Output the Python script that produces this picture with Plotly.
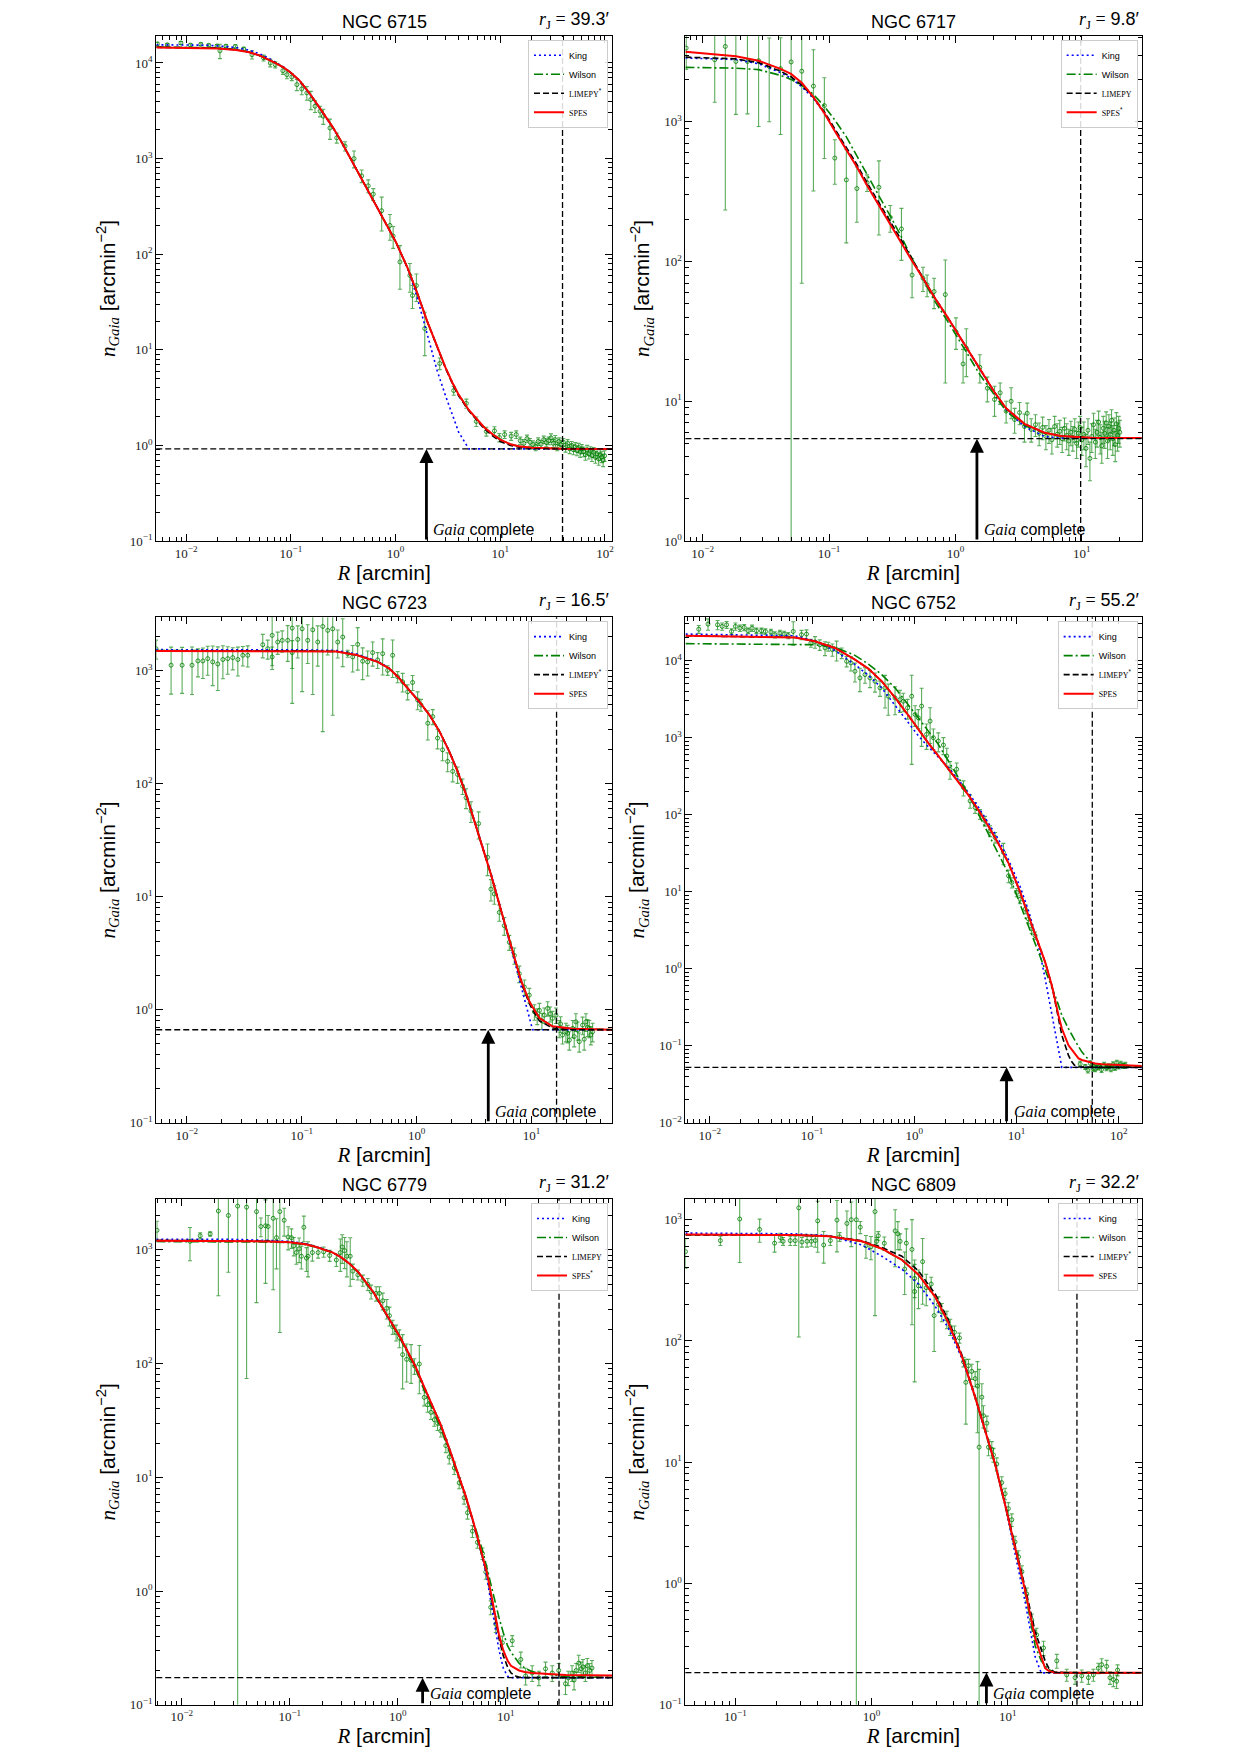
import math
import plotly.graph_objects as go

# ===================== NGC 6715 =====================
N6715_R = [0.0053, 0.0066, 0.0089, 0.011, 0.0138, 0.0164, 0.0197, 0.021, 0.024, 0.0295, 0.0354, 0.0425,
           0.0548, 0.0635, 0.0709, 0.0838, 0.0916, 0.102, 0.114, 0.127, 0.142, 0.155, 0.170, 0.19, 0.204,
           0.236, 0.274, 0.329, 0.401, 0.474, 0.548, 0.612, 0.736, 0.883, 0.948, 1.10, 1.37, 1.45, 1.58,
           1.90, 2.64, 3.59, 4.74, 5.9, 7.36, 8.8, 9.8, 11.0, 12.7, 14.2,
           15.5, 16.8, 18, 19.2, 20.5, 21.8, 23, 24.5, 26, 27.5, 29, 30.5, 32, 33.5, 35, 36.5, 38, 40, 42,
           44, 46, 48, 50, 52, 54, 56, 58, 60, 62.5, 65, 67.5, 70, 72.5, 75, 78, 81, 84, 87, 90, 93, 96, 99]
N6715_N = [15800, 15500, 16200, 15400, 15700, 15300, 15100, 13400, 15000, 14900, 14000, 12200,
           11300, 10000, 9600, 8300, 7550, 7140, 5940, 5350, 4870, 4150, 3530, 3130, 2780,
           2090, 1650, 1350, 1000, 660, 519, 425, 285, 200, 155, 83, 60, 37, 47,
           16.7, 7.2, 3.75, 2.75, 1.78, 1.40, 1.42, 1.21, 1.30, 1.25, 1.30,
           1.12, 1.05, 1.18, 1.08, 1.02, 0.98, 1.10, 1.03, 1.15, 1.07, 1.12, 1.20, 1.05, 1.15, 0.98, 1.10,
           1.02, 1.08, 0.95, 1.05, 0.92, 1.00, 0.90, 0.97, 0.88, 0.95, 0.85, 0.92, 0.86, 0.80, 0.90, 0.82,
           0.87, 0.78, 0.85, 0.75, 0.82, 0.72, 0.80, 0.76, 0.70, 0.78]
N6715_E = [700, 500, 600, 500, 500, 500, 500, 2300, 500, 600, 600, 1200,
           800, 900, 700, 700, 700, 600, 800, 700, 800, 900, 500, 400, 500,
           500, 200, 150, 200, 100, 80, 60, 110, 60, 40, 40, 20, 10, 15,
           8, 1, 0.4, 0.3, 0.2, 0.15, 0.15, 0.12, 0.12, 0.12, 0.12,
           0.1, 0.1, 0.1, 0.1, 0.1, 0.1, 0.1, 0.1, 0.1, 0.1, 0.1, 0.12, 0.1, 0.12, 0.1, 0.1,
           0.1, 0.1, 0.1, 0.1, 0.1, 0.1, 0.1, 0.1, 0.1, 0.1, 0.1, 0.1, 0.1, 0.1, 0.1, 0.1,
           0.1, 0.1, 0.1, 0.1, 0.1, 0.1, 0.1, 0.1, 0.1, 0.1]
N6715_RC = [0.0052, 0.01, 0.015, 0.02, 0.03, 0.04, 0.05, 0.06, 0.07, 0.085, 0.1, 0.12, 0.15, 0.18, 0.2,
            0.25, 0.3, 0.4, 0.5, 0.7, 1.0, 1.3, 1.6, 2.0, 2.5, 3.0, 3.5, 4.0, 5.0, 6.0, 7.0, 8.5, 10,
            12.5, 15, 20, 30, 40, 116]
N6715_KING = [15500, 15450, 15350, 15100, 14500, 13600, 12500, 11400, 10400, 9100, 7900, 6550, 4800,
              3600, 3050, 2130, 1530, 870, 555, 280, 136, 72, 36, 15, 6.0, 3.3, 2.1, 1.38, 0.92, 0.92,
              0.92, 0.92, 0.92, 0.92, 0.92, 0.92, 0.92, 0.92, 0.92]
N6715_WILSON = [14700, 14650, 14550, 14400, 13800, 13000, 12000, 11000, 10100, 9000, 7900, 6600, 4850,
                3650, 3080, 2150, 1540, 870, 555, 280, 136, 72, 40, 20, 10.8, 6.5, 4.5, 3.4, 2.35, 1.85,
                1.55, 1.3, 1.15, 1.03, 0.98, 0.945, 0.928, 0.922, 0.92]
N6715_LIMEPY = [14600, 14550, 14450, 14300, 13750, 12980, 12000, 11000, 10100, 9000, 7900, 6600, 4850,
                3650, 3080, 2150, 1540, 870, 555, 280, 136, 72, 40, 20, 10.7, 6.4, 4.4, 3.3, 2.3, 1.8,
                1.5, 1.25, 1.1, 1.0, 0.96, 0.94, 0.925, 0.92, 0.92]
N6715_SPES = [14500, 14450, 14350, 14200, 13700, 12950, 12000, 11000, 10100, 9000, 7900, 6600, 4850,
              3650, 3080, 2150, 1540, 870, 555, 280, 136, 72, 40, 20, 10.8, 6.5, 4.5, 3.4, 2.35, 1.85,
              1.55, 1.3, 1.15, 1.03, 0.98, 0.945, 0.928, 0.922, 0.92]

# ===================== NGC 6717 =====================
N6717_R = [0.0074, 0.01245, 0.0151, 0.0183, 0.0226, 0.0277, 0.0336, 0.0413, 0.0501, 0.0608, 0.0752,
           0.0918, 0.111, 0.137, 0.166, 0.2, 0.248, 0.305, 0.374, 0.454, 0.554, 0.597, 0.678, 0.832,
           1.01, 1.15, 1.22, 1.56, 1.79, 2.04, 2.26, 2.52, 2.76, 2.94, 3.22, 3.52, 3.7, 3.98,
           4.3, 4.6, 4.9, 5.2, 5.5, 5.8, 6.1, 6.4, 6.7, 7.0, 7.3, 7.6, 7.9, 8.2, 8.5, 8.8, 9.1, 9.4, 9.7,
           10.0, 10.4, 10.8, 11.2, 11.6, 12.0, 12.4, 12.8, 13.2, 13.6, 14.0, 14.4, 14.8, 15.2, 15.6, 16.0,
           16.4, 16.8, 17.2, 17.6, 18.0, 18.4, 18.8, 19.2, 19.6, 20.0]
N6717_N = [3370, 2780, 3460, 2700, 2700, 2735, 2490, 2400, 2680, 2300, 1800,
           1306, 550, 384, 333, 367, 340, 207, 171, 80, 76, 68, 61, 58,
           31.5, 18.5, 24, 17.5, 12.4, 10.3, 11.5, 8.5, 10, 7.4, 8.3, 6.6, 8.2, 6.3,
           6.8, 5.9, 6.5, 5.6, 6.2, 5.3, 6.6, 5.8, 6.1, 5.4, 6.4, 5.7, 5.2, 6.0, 5.5, 6.3, 5.0, 5.9, 6.5,
           5.3, 5.8, 4.6, 6.2, 3.9, 5.6, 6.8, 5.1, 6.0, 7.1, 5.5, 4.8, 6.4, 5.9, 7.0, 5.2,
           6.6, 5.8, 7.3, 5.4, 6.2, 4.9, 6.9, 5.7, 6.4, 6.0]
N6717_E = [1000, 1400, 3226, 1570, 1560, 1810, 1490, 1590, 2700, 2230, 1480,
           760, 193, 248, 142, 50, 185, 45, 69, 25, 15, 12, 15, 44.5,
           8, 5, 9, 4, 2.5, 2.5, 2, 1.5, 2.5, 1.5, 1.5, 1.5, 1.5, 1.2,
           1.2, 1.1, 1.2, 1.1, 1.2, 1.1, 1.2, 1.1, 1.2, 1.1, 1.2, 1.2, 1.1, 1.2, 1.1, 1.2, 1.1, 1.2, 1.3,
           1.2, 1.3, 1.2, 1.3, 1.2, 1.3, 1.4, 1.2, 1.3, 1.4, 1.3, 1.2, 1.4, 1.3, 1.4, 1.3,
           1.4, 1.3, 1.4, 1.3, 1.4, 1.2, 1.4, 1.3, 1.4, 1.3]
N6717_RC = [0.0073, 0.0183, 0.0277, 0.0413, 0.05, 0.0608, 0.0752, 0.0918, 0.111, 0.137, 0.166, 0.2,
            0.248, 0.305, 0.374, 0.454, 0.554, 0.678, 0.85, 1.01, 1.22, 1.56, 2.04, 2.52, 3.52, 5.07,
            6.86, 12.6, 29.8]
N6717_KING = [2860, 2790, 2600, 2250, 2050, 1780, 1470, 1150, 870, 640, 480, 352,
              255, 185, 138, 102, 76, 56, 41, 32, 24, 16.8, 11.5, 8.7, 6.6, 5.6, 5.45, 5.45, 5.45]
N6717_WILSON = [2450, 2420, 2360, 2150, 2010, 1820, 1570, 1290, 1030, 780, 570, 415,
                295, 212, 150, 105, 74, 53, 38.5, 30, 22.5, 15.5, 11, 8.5, 6.7, 5.9, 5.62, 5.46, 5.45]
N6717_LIMEPY = [2900, 2820, 2650, 2300, 2100, 1830, 1500, 1180, 890, 660, 495, 365,
                265, 192, 142, 104, 77, 56, 41, 32, 24, 16.8, 11.6, 8.9, 6.9, 5.95, 5.65, 5.47, 5.45]
N6717_SPES = [3170, 2940, 2735, 2390, 2200, 1900, 1500, 1150, 860, 635, 475, 350,
              252, 183, 137, 101, 76, 56, 41, 32, 24, 16.8, 11.6, 8.9, 6.9, 5.95, 5.65, 5.47, 5.45]

# ===================== NGC 6723 =====================
N6723_R = [0.0054, 0.0073, 0.0091, 0.0111, 0.0125, 0.0138, 0.0152, 0.0168, 0.0186, 0.0206, 0.0227,
           0.0251, 0.0278, 0.0307, 0.0339, 0.0458, 0.0506, 0.0553, 0.0553, 0.0618, 0.0676, 0.0755,
           0.0826, 0.0826, 0.0923, 0.1008, 0.1127, 0.1247, 0.1378, 0.1523, 0.1683, 0.186, 0.2056,
           0.2273, 0.2512, 0.2776, 0.3068, 0.339, 0.3747, 0.414, 0.458, 0.506, 0.559, 0.618, 0.683,
           0.755, 0.835, 0.922, 1.02, 1.09, 1.25, 1.38, 1.52, 1.68, 1.86, 2.06, 2.27, 2.51, 2.69, 2.97,
           3.46, 4.14, 4.43, 4.74, 5.24, 5.79, 6.4, 7.08, 7.82, 8.65, 9.55, 10.6, 11.2, 11.7, 12.3,
           12.9, 13.8, 14.5, 15.2, 16.3, 17.4, 17.9, 18.6, 19.9, 20.6, 21.3, 22.8, 23.5, 24.3, 25.2,
           26, 27.8, 28.7, 29.7, 30.7, 31.8, 32.8, 34]
N6723_N = [1570, 1122, 1122, 1122, 1224, 1224, 1282, 1200, 1150, 1260, 1282,
           1310, 1260, 1373, 1373, 1703, 1571, 2061, 1327, 1800, 1860, 1862,
           2390, 1450, 1900, 2355, 1862, 2307, 1800, 2470, 2280, 2355, 1800,
           1990, 1420, 1327, 1714, 1217, 1200, 1450, 1250, 1420, 1011, 1373, 885,
           800, 653, 789, 552, 499, 344, 394, 254, 200, 158, 129, 121, 95.5, 75.4, 57.5,
           44.5, 22.4, 11.7, 10.6, 7.28, 5.56, 3.96, 3.03, 2.09, 1.59, 1.35, 0.96, 0.88, 0.99, 0.80,
           0.897, 1.03, 0.92, 0.84, 0.897, 0.686, 0.75, 0.598, 0.641, 0.62, 0.54, 0.686, 0.58, 0.783, 0.66,
           0.523, 0.733, 0.55, 0.783, 0.70, 0.686, 0.60, 0.641]
N6723_E = [300, 500, 490, 505, 340, 368, 367, 460, 480, 410, 350,
           290, 360, 270, 290, 400, 300, 950, 300, 400, 400, 650,
           1875, 400, 600, 1700, 700, 1690, 700, 2180, 900, 1950, 500,
           900, 100, 350, 700, 380, 300, 350, 200, 500, 100, 500, 100,
           150, 100, 120, 100, 60, 100, 60, 50, 40, 30, 25, 20, 15, 15, 12,
           12, 7, 2.5, 2, 1.2, 1, 0.6, 0.5, 0.35, 0.25, 0.2, 0.15, 0.14, 0.15, 0.13,
           0.14, 0.15, 0.14, 0.13, 0.14, 0.12, 0.12, 0.1, 0.12, 0.11, 0.1, 0.12, 0.11, 0.14, 0.12,
           0.1, 0.13, 0.11, 0.14, 0.12, 0.12, 0.11, 0.12]
N6723_RC = [0.0054, 0.05, 0.1, 0.2, 0.3, 0.458, 0.579, 0.708, 0.865, 1.06, 1.29, 1.58, 1.92, 2.27,
            2.69, 3.07, 3.51, 4.01, 4.43, 5.06, 5.79, 6.84, 7.3, 8.09, 8.36, 9.23, 9.55, 10.2, 11.7,
            15.2, 22.7, 50.6]
N6723_KING = [1540, 1540, 1535, 1515, 1410, 1215, 1055, 860, 675, 532, 410, 292, 195, 130,
              82, 53, 34.5, 23, 16.2, 10, 5.9, 3.0, 2.33, 1.65, 1.45, 0.97, 0.85, 0.667, 0.667,
              0.667, 0.667, 0.667]
N6723_WILSON = [1510, 1510, 1505, 1485, 1385, 1200, 1047, 855, 672, 530, 408, 291, 194, 129,
                80.7, 52, 33.5, 22.4, 15.8, 9.75, 5.94, 3.24, 2.6, 1.82, 1.67, 1.3, 1.19, 1.06, 0.847,
                0.715, 0.682, 0.667]
N6723_LIMEPY = [1505, 1505, 1500, 1482, 1382, 1200, 1047, 855, 672, 530, 408, 291, 194, 129,
                80.7, 52, 33.5, 22.4, 15.8, 9.75, 5.94, 3.2, 2.55, 1.78, 1.62, 1.25, 1.14, 1.0, 0.8,
                0.69, 0.672, 0.667]
N6723_SPES = [1500, 1500, 1495, 1480, 1380, 1200, 1047, 855, 672, 530, 408, 291, 194, 129,
              80.7, 52, 33.5, 22.4, 15.8, 9.75, 5.94, 3.24, 2.6, 1.82, 1.67, 1.3, 1.19, 1.06, 0.847,
              0.715, 0.682, 0.667]

# ===================== NGC 6752 =====================
N6752_R = [0.0078, 0.0096, 0.0119, 0.0132, 0.0146, 0.0163, 0.0178, 0.0197, 0.0217, 0.0237, 0.0259,
           0.0286, 0.032, 0.035, 0.0396, 0.0433, 0.0485, 0.0534, 0.0585, 0.0655, 0.0789, 0.0883,
           0.0975, 0.107, 0.119, 0.134, 0.144, 0.158, 0.174, 0.195, 0.218, 0.24, 0.263, 0.294, 0.33,
           0.369, 0.413, 0.462, 0.518, 0.557, 0.649, 0.726, 0.782, 0.861, 0.944, 1.02, 1.096, 1.18,
           1.32, 1.43, 1.54, 1.72, 1.93, 2.08, 2.24, 2.6, 3.03, 3.52, 3.94, 4.41, 4.93, 5.52, 6.18,
           7.46, 8.36, 9.0, 10.07, 10.9, 12.2, 13.1, 14.1, 15.2,
           42, 47.1, 50, 53, 56, 59, 62, 65, 68, 72, 76, 80, 84, 88, 92, 96, 100, 105, 110, 116]
N6752_N = [25600, 29800, 29200, 27800, 29200, 23900, 27800, 26400, 27000, 24400, 26400,
           24400, 24400, 23900, 23500, 21700, 22800, 22100, 21200, 23900, 21700, 22100,
           16900, 17500, 16100, 14600, 15300, 13900, 13900, 12600, 9800, 9330, 7280, 5960, 6590,
           5960, 5400, 4430, 4430, 3450, 3280, 3120, 2970, 2440, 3450, 2000, 1810, 2570,
           1104, 1640, 998, 904, 802, 578, 389, 389, 225, 151, 124, 102, 83, 62, 50.7,
           32.4, 16.1, 13.2, 9.8, 8.0, 5.97, 4.44, 3.29, 2.7,
           0.058, 0.0533, 0.0483, 0.059, 0.051, 0.05, 0.0525, 0.054, 0.049, 0.056, 0.0515, 0.0545,
           0.05, 0.057, 0.052, 0.06, 0.054, 0.058, 0.055, 0.056]
N6752_E = [3000, 5000, 4000, 3000, 3000, 2000, 3000, 2500, 2500, 2000, 2500,
           2000, 2000, 2000, 2000, 2000, 2000, 2000, 2000, 8000, 3000, 3000,
           2000, 3000, 2500, 3000, 2000, 2500, 4000, 2000, 1500, 2000, 2000, 2000, 1500,
           1500, 1500, 1000, 2000, 1500, 1300, 1000, 800, 700, 3000, 600, 500, 1800,
           400, 800, 300, 250, 200, 150, 100, 80, 50, 30, 20, 15, 12, 10, 8,
           10, 3, 2, 1.2, 1, 0.8, 0.6, 0.4, 0.3,
           0.005, 0.004, 0.004, 0.005, 0.004, 0.004, 0.004, 0.004, 0.004, 0.005, 0.004, 0.004,
           0.004, 0.005, 0.004, 0.005, 0.004, 0.005, 0.004, 0.005]
N6752_RC = [0.0058, 0.068, 0.1066, 0.1675, 0.263, 0.355, 0.48, 0.649, 0.875, 1.096, 1.374, 1.72,
            2.16, 2.7, 3.39, 4.25, 5.32, 6.67, 8.36, 9.0, 10.9, 13.1, 15.8, 16.4, 19.1, 22.2, 23.9,
            24.8, 25.8, 27.8, 32.3, 34.8, 37, 40.5, 43.6, 54.6, 59, 68.6, 169]
N6752_KING = [22100, 21000, 18000, 13500, 8870, 6460, 4430, 2600, 1560, 1060, 760, 560,
              410, 285, 194, 125, 79, 48, 26, 21, 11.5, 5.68, 2.5, 2.0, 0.743, 0.249, 0.153,
              0.119, 0.092, 0.0525, 0.0525, 0.0525, 0.0525, 0.0525, 0.0525, 0.0525, 0.0525,
              0.0525, 0.0525]
N6752_WILSON = [16600, 16400, 16100, 14900, 11700, 9040, 6590, 4430, 2690, 1810, 1216, 818,
                498, 303, 184, 102, 56, 30.9, 17, 13.2, 6.85, 3.63, 1.92, 1.68, 1.0, 0.587, 0.452,
                0.392, 0.335, 0.249, 0.167, 0.137, 0.12, 0.098, 0.0834, 0.059, 0.056, 0.0545, 0.0545]
N6752_LIMEPY = [21000, 20000, 17800, 14600, 10300, 7880, 5400, 3300, 1950, 1280, 850, 580,
                395, 265, 180, 114, 71, 42, 23.5, 18.5, 9.8, 4.9, 2.44, 2.13, 1.22, 0.608, 0.37,
                0.29, 0.22, 0.137, 0.075, 0.062, 0.056, 0.0535, 0.053, 0.0525, 0.0525, 0.0525, 0.0525]
N6752_SPES = [21000, 20000, 17800, 14600, 10300, 7880, 5400, 3300, 1950, 1280, 850, 580,
              395, 265, 180, 114, 71, 42, 23.5, 18.5, 9.8, 4.9, 2.44, 2.13, 1.22, 0.608, 0.383,
              0.304, 0.247, 0.1675, 0.1017, 0.0893, 0.08, 0.0685, 0.0655, 0.06, 0.059, 0.0575, 0.0545]

# ===================== NGC 6779 =====================
N6779_R = [0.00588, 0.0119, 0.0148, 0.0183, 0.0218, 0.027, 0.0329, 0.0398, 0.0492, 0.054, 0.0596,
           0.063, 0.0702, 0.0753, 0.0809, 0.0887, 0.0966, 0.1036, 0.109, 0.115, 0.122, 0.128, 0.135,
           0.1425, 0.1476, 0.162, 0.183, 0.206, 0.234, 0.27, 0.294, 0.306, 0.322, 0.338, 0.363, 0.384,
           0.427, 0.475, 0.528, 0.567, 0.631, 0.677, 0.727, 0.791, 0.838, 0.899, 0.966, 1.036, 1.11,
           1.21, 1.33, 1.43, 1.585, 1.76, 1.89, 2.03, 2.18, 2.34, 2.51, 2.79, 3.0, 3.34, 3.71, 4.12,
           4.43, 4.92, 5.47, 6.09, 6.54, 7.27, 8.09, 9.31, 11.5, 13.8, 15.3, 17.6, 20.3, 23.4, 27, 31,
           35.8, 38, 41.2, 43, 45, 47.5, 50, 52, 54.7, 57, 60, 63]
N6779_N = [1490, 1189, 1332, 1383, 2200, 2010, 2430, 2377, 2173, 1607, 1631,
           1607, 1897, 1282, 2173, 1824, 1301, 1282, 1086, 948, 1023, 880, 1582,
           847, 880, 948, 948, 963, 893, 816, 948, 1062, 985, 880, 880, 651,
           604, 540, 500, 430, 415, 415, 357, 307, 264, 211, 188, 168, 120,
           109, 107, 95.5, 99.3, 50.5, 43.4, 37.3, 32.1, 29.8, 25.6, 19.0, 15.1, 12.1, 8.94, 6.61,
           4.89, 3.36, 2.68, 2.14, 1.47, 0.718, 0.512, 0.351, 0.365, 0.25, 0.179, 0.19, 0.172, 0.207,
           0.19, 0.2, 0.153, 0.172, 0.19, 0.165, 0.2, 0.232, 0.207, 0.215, 0.19, 0.22, 0.2, 0.21]
N6779_E = [300, 385, 80, 60, 1804, 1373, 2440, 2303, 1829, 300, 1123,
           400, 1450, 600, 1985, 500, 300, 250, 200, 200, 250, 200, 400,
           200, 300, 150, 100, 100, 100, 100, 300, 300, 300, 300, 400, 100,
           60, 60, 60, 60, 60, 60, 60, 60, 50, 30, 30, 30, 60,
           40, 40, 15, 45, 8, 6, 5, 4, 4, 3, 2.5, 2, 1.5, 1, 0.8,
           0.6, 0.4, 0.3, 0.25, 0.2, 0.1, 0.08, 0.05, 0.04, 0.04, 0.03, 0.03, 0.025, 0.03,
           0.03, 0.03, 0.03, 0.025, 0.03, 0.03, 0.03, 0.04, 0.03, 0.035, 0.03, 0.035, 0.03, 0.035]
N6779_RC = [0.0058, 0.03, 0.061, 0.1, 0.14, 0.176, 0.21, 0.251, 0.3, 0.358, 0.43, 0.51, 0.6, 0.727,
            0.85, 1.036, 1.2, 1.476, 1.76, 2.1, 2.5, 3.0, 3.6, 4.27, 5.0, 6.09, 6.7, 7.27, 8.0, 8.68,
            9.5, 10.4, 11.2, 12.5, 13.3, 15, 17.6, 35.8, 96.6]
N6779_KING = [1240, 1238, 1215, 1190, 1135, 1070, 1015, 950, 860, 757, 640, 520, 420, 307,
              240, 175, 135, 92, 62, 43, 29, 18, 11, 6.8, 4.0, 2.0, 1.3, 0.8, 0.45, 0.3,
              0.21, 0.178, 0.173, 0.173, 0.173, 0.173, 0.173, 0.173, 0.173]
N6779_WILSON = [1185, 1185, 1172, 1160, 1112, 1058, 1005, 945, 855, 752, 635, 515, 415, 303,
                236, 170, 130, 88, 58, 40, 27, 17, 10.5, 6.6, 4.1, 2.3, 1.6, 1.15, 0.8, 0.58,
                0.43, 0.33, 0.29, 0.25, 0.232, 0.21, 0.195, 0.176, 0.174]
N6779_LIMEPY = [1215, 1213, 1195, 1175, 1125, 1065, 1012, 950, 860, 757, 640, 520, 420, 307,
                240, 175, 135, 92, 62, 43, 29, 18, 11, 6.8, 4.05, 2.05, 1.4, 0.93, 0.56, 0.38,
                0.27, 0.215, 0.19, 0.178, 0.175, 0.173, 0.173, 0.173, 0.173]
N6779_SPES = [1207, 1207, 1189, 1171, 1120, 1062, 1010, 948, 860, 757, 640, 520, 420, 307,
              240, 175, 135, 92, 62, 43, 29, 18, 11, 6.8, 4.1, 2.1, 1.45, 0.98, 0.6, 0.41,
              0.3, 0.245, 0.22, 0.205, 0.2, 0.194, 0.19, 0.1825, 0.181]

# ===================== NGC 6809 =====================
N6809_R = [0.043, 0.0776, 0.1076, 0.1507, 0.194, 0.214, 0.224, 0.253, 0.275, 0.292, 0.308, 0.336,
           0.361, 0.386, 0.402, 0.445, 0.498, 0.557, 0.582, 0.659, 0.709, 0.773, 0.826, 0.909, 0.989,
           1.06, 1.09, 1.12, 1.24, 1.49, 1.56, 1.62, 1.75, 1.8, 1.98, 2.07, 2.07, 2.21, 2.37, 2.52,
           2.74, 2.88, 3.1, 3.28, 3.57, 3.78, 4.06, 4.42, 4.73, 4.92, 5.14, 5.44, 5.76, 5.99, 6.16,
           6.45, 6.63, 7.02, 7.22, 7.63, 7.85, 8.3, 9.03, 9.56, 10.1, 10.7, 11.3, 12, 12.7, 13.8, 15,
           16.3, 18.3, 22.9, 27.1, 31.2, 34.9, 39.1, 42.5, 46.2, 48.9, 53.2, 56.3, 59.6, 63, 64]
N6809_N = [546, 673, 1014, 832, 641, 713, 664, 673, 673, 1253, 655, 664,
           664, 673, 979, 619, 673, 993, 723, 932, 1000, 1000, 868, 611, 598,
           1168, 664, 738, 640, 809, 765, 664, 392, 641, 569, 256, 328, 285, 451, 275,
           295, 162, 201, 174, 151, 131, 118, 106, 67.2, 45.6, 62.5, 56.2, 48.9, 42.5, 13.3,
           34.4, 24.2, 21, 13.3, 12.8, 11.5, 9.66, 6.79, 5.5, 4.14, 3.35, 2.2, 1.66, 1.25, 0.818, 0.499,
           0.377, 0.294, 0.23, 0.176, 0.167, 0.173, 0.167, 0.176, 0.2, 0.214, 0.207, 0.167, 0.161, 0.156,
           0.193]
N6809_E = [150, 60, 570, 180, 100, 60, 50, 60, 60, 1145, 60, 70,
           60, 80, 440, 180, 60, 450, 60, 250, 400, 1010, 100, 130, 130,
           1006, 50, 60, 80, 400, 200, 100, 150, 200, 433, 210, 100, 100, 250, 80,
           40, 80, 30, 30, 25, 20, 15, 10, 6, 25, 8, 8, 7, 25, 45,
           10, 5, 3, 2, 2, 1.5, 1.2, 0.8, 0.6, 0.5, 0.4, 0.25, 0.2, 0.15, 0.1, 0.06,
           0.05, 0.04, 0.03, 0.02, 0.02, 0.02, 0.02, 0.02, 0.02, 0.025, 0.025, 0.02, 0.02, 0.02,
           0.02]
N6809_RC = [0.043, 0.1, 0.275, 0.484, 0.849, 1.19, 1.67, 2.21, 2.93, 3.67, 4.6, 5.76, 6.82, 8.07,
            9.56, 11.3, 13.4, 15.9, 17.6, 18.8, 20, 22.2, 33, 96]
N6809_KING = [776, 775, 765, 740, 619, 500, 391, 295, 193, 127, 72, 34, 18, 9.6,
              4.4, 1.78, 0.71, 0.247, 0.183, 0.183, 0.183, 0.183, 0.183, 0.183]
N6809_WILSON = [752, 751, 747, 731, 662, 575, 465, 350, 230, 141, 74, 34, 18, 9.5,
                4.4, 2.0, 0.85, 0.305, 0.23, 0.21, 0.195, 0.185, 0.183, 0.183]
N6809_LIMEPY = [750, 750, 746, 733, 672, 590, 500, 378, 245, 148, 77, 35, 18.5, 9.8,
                4.55, 2.12, 0.93, 0.4, 0.29, 0.23, 0.2, 0.185, 0.183, 0.183]
N6809_SPES = [754, 753, 748, 732, 664, 577, 467, 352, 231, 141, 74.7, 34.4, 18.2, 9.66,
              4.45, 2.05, 0.878, 0.351, 0.25, 0.2, 0.19, 0.183, 0.183, 0.183]

# ===================== per-panel meta =====================
NAMES = ["NGC 6715", "NGC 6717", "NGC 6723", "NGC 6752", "NGC 6779", "NGC 6809"]
R_J = ["39.3", "9.8", "16.5", "55.2", "31.2", "32.2"]
R_J_VAL = [39.3, 9.8, 16.5, 55.2, 31.2, 32.2]
BACKGROUND = [0.92, 5.4, 0.667, 0.0525, 0.173, 0.184]
R_COMPLETE = [1.97, 1.48, 4.2, 8.0, 1.7, 6.97]
BEST_MODEL = ["LIMEPY", "SPES", "LIMEPY", "LIMEPY", "SPES", "LIMEPY"]
X_RANGE = [[-2.286, 2.067], [-2.137, 1.474], [-2.266, 1.70], [-2.239, 2.225], [-2.237, 1.985], [-1.367, 1.983]]
Y_RANGE = [[-1, 4.284], [0, 3.615], [-1, 3.475], [-2, 4.564], [-1, 3.448], [-1, 3.171]]

DATA = [
    (N6715_R, N6715_N, N6715_E, N6715_RC, N6715_KING, N6715_WILSON, N6715_LIMEPY, N6715_SPES),
    (N6717_R, N6717_N, N6717_E, N6717_RC, N6717_KING, N6717_WILSON, N6717_LIMEPY, N6717_SPES),
    (N6723_R, N6723_N, N6723_E, N6723_RC, N6723_KING, N6723_WILSON, N6723_LIMEPY, N6723_SPES),
    (N6752_R, N6752_N, N6752_E, N6752_RC, N6752_KING, N6752_WILSON, N6752_LIMEPY, N6752_SPES),
    (N6779_R, N6779_N, N6779_E, N6779_RC, N6779_KING, N6779_WILSON, N6779_LIMEPY, N6779_SPES),
    (N6809_R, N6809_N, N6809_E, N6809_RC, N6809_KING, N6809_WILSON, N6809_LIMEPY, N6809_SPES),
]

# ===================== layout geometry =====================
W, H = 1241, 1754
X_DOM = [[156.5 / W, 613.0 / W], [686.5 / W, 1143.5 / W]]
Y_DOM = [[1 - 543.5 / H, 1 - 36.0 / H], [1 - 1128.0 / H, 1 - 620.0 / H], [1 - 1712.5 / H, 1 - 1204.5 / H]]

SERIF = "Liberation Serif"
SANS = "Liberation Sans"


def pow_label(k):
    s = ("−" if k < 0 else "") + str(abs(k))
    return "10<sup>" + s + "</sup>"


def log_ticks(rng):
    lo, hi = rng
    majors = [k for k in range(math.floor(lo), math.ceil(hi) + 1) if lo - 1e-6 <= k <= hi + 1e-6]
    minors = []
    for k in range(math.floor(lo) - 1, math.ceil(hi) + 1):
        for m in range(2, 10):
            v = math.log10(m) + k
            if lo <= v <= hi:
                minors.append(m * 10.0 ** k)
    return [10.0 ** k for k in majors], [pow_label(k) for k in majors], minors


def label(model, best):
    sc = '<span style="font-family:%s;font-size:8px">%s</span>' % (SERIF, model)
    return sc + ("<sup>*</sup>" if model == best else "")


fig = go.Figure()
layout = dict(width=W, height=H, margin=dict(l=0, r=0, t=0, b=0),
              plot_bgcolor="white", paper_bgcolor="white", showlegend=True)
annotations = []
shapes = []

for i in range(6):
    row, col = i // 2, i % 2
    sfx = "" if i == 0 else str(i + 1)
    xa, ya = "x" + sfx, "y" + sfx
    lg = "legend" + sfx
    R, N, E, RC, KING, WILSON, LIMEPY, SPES = DATA[i]
    best = BEST_MODEL[i]

    fig.add_trace(go.Scatter(
        x=R, y=N, mode="markers", xaxis=xa, yaxis=ya, showlegend=False,
        marker=dict(symbol="circle-open", size=4, color="rgba(0,128,0,0.8)", line=dict(width=1)),
        error_y=dict(type="data", array=E, arrayminus=E, symmetric=False, color="rgba(0,128,0,0.65)",
                     thickness=1.1, width=2)))

    styles = [
        ("King", KING, dict(color="blue", width=1.6, dash="2px,3px")),
        ("Wilson", WILSON, dict(color="green", width=1.6, dash="9px,3px,2px,3px")),
        ("LIMEPY", LIMEPY, dict(color="black", width=1.6, dash="6px,3px")),
        ("SPES", SPES, dict(color="red", width=2.0)),
    ]
    for nm, vals, ln in styles:
        txt = nm if nm in ("King", "Wilson") else label(nm, best)
        fig.add_trace(go.Scatter(x=RC, y=vals, mode="lines", name=txt, line=ln,
                                 xaxis=xa, yaxis=ya, legend=lg))

    xt, xtt, xminor = log_ticks(X_RANGE[i])
    yt, ytt, yminor = log_ticks(Y_RANGE[i])
    common = dict(type="log", showgrid=False, zeroline=False, showline=True, linecolor="black",
                  linewidth=1.2, mirror="allticks", ticks="inside", ticklen=7, tickwidth=1,
                  tickcolor="black", tickfont=dict(family=SERIF, size=13, color="#222"))
    layout["xaxis" + sfx] = dict(common, domain=X_DOM[col], anchor=ya, range=X_RANGE[i],
                                 tickmode="array", tickvals=xt, ticktext=xtt,
                                 minor=dict(tickvals=xminor, ticks="inside", ticklen=4, tickwidth=1,
                                            tickcolor="black", showgrid=False),
                                 title=dict(text='<span style="font-family:%s"><i>R</i></span> [arcmin]' % SERIF,
                                            font=dict(family=SANS, size=21, color="black"), standoff=2))
    layout["yaxis" + sfx] = dict(common, domain=Y_DOM[row], anchor=xa, range=Y_RANGE[i],
                                 tickmode="array", tickvals=yt, ticktext=ytt,
                                 minor=dict(tickvals=yminor, ticks="inside", ticklen=4, tickwidth=1,
                                            tickcolor="black", showgrid=False),
                                 title=dict(text='<span style="font-family:%s"><i>n</i><sub><i>Gaia</i></sub></span> [arcmin<sup>−2</sup>]' % SERIF,
                                            font=dict(family=SANS, size=21, color="black"), standoff=8))
    layout[lg] = dict(x=X_DOM[col][1] - 4.0 / W, y=Y_DOM[row][1] - 4.0 / H, xanchor="right", yanchor="top",
                      bgcolor="rgba(255,255,255,0.85)", bordercolor="#cccccc", borderwidth=1,
                      font=dict(family=SANS, size=9, color="black"), itemwidth=30, tracegroupgap=0)

    # background level and Jacobi radius
    shapes.append(dict(type="line", xref=xa + " domain", yref=ya, x0=0, x1=1,
                       y0=BACKGROUND[i], y1=BACKGROUND[i], line=dict(color="black", width=1.3, dash="6px,3px")))
    shapes.append(dict(type="line", xref=xa, yref=ya + " domain", x0=R_J_VAL[i], x1=R_J_VAL[i],
                       y0=0, y1=1, line=dict(color="black", width=1.3, dash="6px,3px")))

    # Gaia completeness arrow
    lx = math.log10(R_COMPLETE[i])
    annotations.append(dict(xref=xa, yref=ya, axref=xa, ayref=ya, x=lx, y=math.log10(BACKGROUND[i]),
                            ax=lx, ay=Y_RANGE[i][0], text="", showarrow=True, arrowhead=2, arrowsize=1.0,
                            arrowwidth=2.8, arrowcolor="black", standoff=0, startstandoff=0))
    annotations.append(dict(xref=xa, yref=ya, x=lx, y=Y_RANGE[i][0], xanchor="left", yanchor="bottom",
                            xshift=5, yshift=1, showarrow=False,
                            text='<span style="font-family:%s"><i>Gaia</i></span> complete' % SERIF,
                            font=dict(family=SANS, size=16, color="black")))

    # titles
    annotations.append(dict(xref="paper", yref="paper", x=sum(X_DOM[col]) / 2, y=Y_DOM[row][1],
                            yshift=2, xanchor="center", yanchor="bottom", showarrow=False, text=NAMES[i],
                            font=dict(family=SANS, size=18, color="black")))
    annotations.append(dict(xref="paper", yref="paper", x=X_DOM[col][1], y=Y_DOM[row][1],
                            yshift=2, xanchor="right", yanchor="bottom", showarrow=False,
                            text='<span style="font-family:%s"><i>r</i><sub>J</sub> =</span> %s′' % (SERIF, R_J[i]),
                            font=dict(family=SANS, size=18, color="black")))

layout["annotations"] = annotations
layout["shapes"] = shapes
fig.update_layout(**layout)
fig.write_html("out.html")
